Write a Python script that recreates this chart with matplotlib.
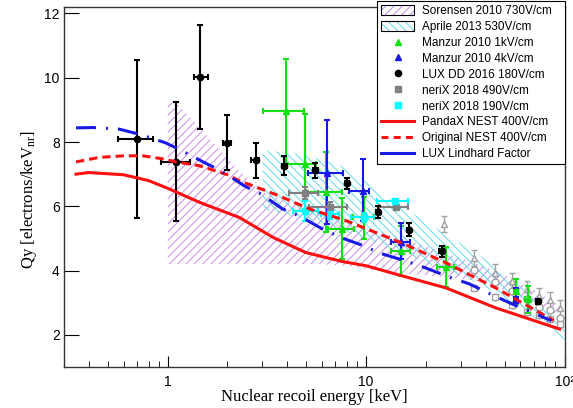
import numpy as np
import matplotlib
matplotlib.use('Agg')
import matplotlib.pyplot as plt
from matplotlib.lines import Line2D
from matplotlib.patches import Patch

plt.rcParams['font.family'] = ['Liberation Sans', 'DejaVu Sans']
plt.rcParams['mathtext.fontset'] = 'custom'
plt.rcParams['mathtext.rm'] = 'Liberation Serif'
plt.rcParams['mathtext.it'] = 'Liberation Serif:italic'
plt.rcParams['hatch.linewidth'] = 0.7
plt.rcParams['lines.scale_dashes'] = False

# ---- bands ----
sor_x = [1.0, 1.08, 1.3, 1.8, 2.3, 2.9, 4.0, 6.0, 8.0, 11.0, 16.0, 25.0, 35.0, 50.0, 70.0, 95.0]
sor_hi = [9.28, 9.28, 8.75, 7.8, 7.1, 6.5, 6.15, 5.8, 5.5, 5.25, 4.95, 4.55, 4.25, 3.85, 3.4, 2.9]
sor_lo = [4.2, 4.2, 4.2, 4.2, 4.2, 4.2, 4.2, 4.2, 4.15, 4.0, 3.9, 3.8, 3.7, 3.4, 3.0, 2.6]

apr_x = [3.0, 5.0, 8.0, 12.0, 19.0, 37.0, 60.0, 80.0, 100.0]
apr_hi = [7.75, 7.6, 7.2, 6.4, 5.6, 4.5, 3.5, 2.9, 2.3]
apr_lo = [5.9, 5.6, 5.2, 4.8, 4.3, 3.6, 2.8, 2.3, 1.7]

# ---- curves ----
pandax_x = [0.345, 0.4, 0.6, 0.8, 1.0, 1.45, 2.3, 3.4, 4.97, 7.6, 10.0, 15.1, 25.3, 45.0, 94.5]
pandax_y = [7.0, 7.05, 6.98, 6.8, 6.56, 6.12, 5.65, 5.03, 4.56, 4.28, 4.15, 3.84, 3.46, 2.84, 2.18]

nest_x = [0.345, 0.45, 0.6, 0.75, 0.98, 1.1, 1.45, 2.0, 2.3, 3.14, 3.65, 5.17, 7.95, 15.1, 25.3, 45.0, 88.0]
nest_y = [7.38, 7.52, 7.57, 7.57, 7.46, 7.38, 7.26, 6.98, 6.79, 6.48, 6.32, 5.92, 5.55, 4.86, 4.24, 3.46, 2.45]

lind_x = [0.345, 0.42, 0.57, 0.72, 0.97, 1.17, 1.53, 1.86, 2.44, 2.96, 3.78, 4.6, 6.0, 7.5, 9.76, 11.6,
          15.8, 20.0, 27.0, 33.0, 42.0, 54.0, 86.0]
lind_y = [8.44, 8.45, 8.4, 8.24, 7.98, 7.74, 7.36, 7.1, 6.63, 6.38, 5.92, 5.7, 5.3, 5.02, 4.77, 4.55,
          4.3, 4.08, 3.77, 3.59, 3.28, 2.97, 2.44]

# ---- data points ----
lux_x = [0.70, 1.106, 1.46, 1.99, 2.77, 3.87, 5.54, 8.0, 11.5, 16.4, 24.0, 73.5]
lux_y = [8.09, 7.38, 10.02, 7.98, 7.43, 7.26, 7.13, 6.72, 5.83, 5.27, 4.61, 3.04]
lux_xlo = [0.56, 0.92, 1.35, 1.91, 2.63, 3.75, 5.4, 7.8, 11.2, 16.0, 23.4, 72.0]
lux_xhi = [0.84, 1.29, 1.59, 2.09, 2.9, 4.0, 5.7, 8.2, 11.8, 16.8, 24.6, 75.0]
lux_ylo = [5.65, 5.55, 8.4, 7.13, 6.87, 6.97, 6.89, 6.53, 5.65, 5.07, 4.43, 2.95]
lux_yhi = [10.54, 9.23, 11.64, 8.83, 7.98, 7.55, 7.36, 6.89, 6.01, 5.47, 4.77, 3.13]

m1_x = [3.95, 4.94, 6.3, 7.6, 9.76, 15.0, 25.3, 57.0, 65.3]
m1_y = [8.95, 7.31, 6.43, 5.3, 5.67, 4.61, 4.1, 3.37, 3.11]
m1_xlo = [3.01, 3.95, 4.97, 6.4, 8.6, 13.4, 22.8, 55.5, 63.5]
m1_xhi = [4.88, 5.6, 7.6, 8.7, 11.0, 16.7, 27.6, 58.5, 67.0]
m1_ylo = [7.36, 5.76, 5.2, 4.35, 4.98, 3.84, 3.49, 2.95, 2.69]
m1_yhi = [10.58, 8.86, 7.68, 6.27, 6.3, 5.38, 4.72, 3.73, 3.52]

m4_x = [6.38, 9.66, 15.0, 57.0]
m4_y = [7.05, 6.48, 4.89, 3.13]
m4_xlo = [5.12, 8.2, 13.3, 55.5]
m4_xhi = [7.66, 10.4, 16.7, 58.5]
m4_ylo = [5.44, 5.55, 4.35, 3.0]
m4_yhi = [8.68, 7.46, 5.49, 3.47]

n490_x = [4.92, 6.57, 14.1]
n490_y = [6.41, 5.99, 5.98]
n490_xlo = [4.1, 5.17, 11.6]
n490_xhi = [5.74, 8.05, 16.2]
n490_ylo = [6.23, 5.84, 5.9]
n490_yhi = [6.59, 6.14, 6.06]

n190_x = [4.92, 6.57, 9.77, 14.0]
n190_y = [5.84, 5.77, 5.67, 6.15]
n190_xlo = [4.27, 5.9, 8.4, 11.4]
n190_xhi = [5.75, 7.3, 11.1, 16.3]
n190_ylo = [5.55, 5.6, 5.52, 6.07]
n190_yhi = [6.15, 5.95, 5.8, 6.23]

# other (unlabelled) open markers
tri_x = [24.8, 35.0, 44.8, 54.6, 64.5, 74.0, 85.0, 94.5]
tri_y = [5.44, 4.39, 3.94, 3.68, 3.42, 3.2, 3.08, 2.85]
circ_x = [35.0, 44.8, 54.6, 64.5, 74.0, 85.0, 94.5]
circ_y = [4.02, 3.63, 3.35, 3.13, 2.88, 2.77, 2.54]
sq_x = [35.0, 44.8, 54.6, 64.5, 74.0, 85.0, 94.5]
sq_y = [3.45, 3.18, 2.93, 2.72, 2.62, 2.49, 2.33]

PURPLE = '#c88ae8'
CYAN = '#62dbe6'
GREEN = '#12e012'
BLUE = '#1a1ae6'
RED = '#ff1010'

fig = plt.figure(figsize=(5.73, 4.08), dpi=100)
ax = fig.add_axes([64 / 573, 1 - 367 / 408, 500.5 / 573, 360 / 408])


def draw_points(x, y, xlo, xhi, ylo, yhi, color, marker, ms, z):
    x = np.array(x); y = np.array(y)
    ax.errorbar(x, y, xerr=[x - np.array(xlo), np.array(xhi) - x],
                yerr=[y - np.array(ylo), np.array(yhi) - y],
                fmt=marker, color=color, ms=ms, lw=1.5, capsize=2.2, capthick=1.5,
                zorder=z)


# bands
ax.fill_between(sor_x, sor_lo, sor_hi, facecolor='none', edgecolor=PURPLE,
                hatch='////', linewidth=0, zorder=1)
ax.fill_between(apr_x, apr_lo, apr_hi, facecolor='none', edgecolor=CYAN,
                hatch='\\\\\\\\', linewidth=0, zorder=1)

# other open markers
ax.errorbar(tri_x, tri_y, yerr=0.25, fmt='^', mfc='white', mec='#a0a0a0', color='#a0a0a0',
            ms=5, lw=1, capsize=2, zorder=2)
ax.errorbar(circ_x, circ_y, yerr=0.12, fmt='o', mfc='white', mec='#a0a0a0', color='#a0a0a0',
            ms=5, lw=1, capsize=0, zorder=2)
ax.errorbar(sq_x, sq_y, yerr=0.12, fmt='s', mfc='white', mec='#a0a0a0', color='#a0a0a0',
            ms=5, lw=1, capsize=0, zorder=2)

draw_points(m1_x, m1_y, m1_xlo, m1_xhi, m1_ylo, m1_yhi, GREEN, '^', 4, 3)
draw_points(m4_x, m4_y, m4_xlo, m4_xhi, m4_ylo, m4_yhi, BLUE, '^', 4, 3)
draw_points(n490_x, n490_y, n490_xlo, n490_xhi, n490_ylo, n490_yhi, '#808080', 's', 4.5, 3)
draw_points(n190_x, n190_y, n190_xlo, n190_xhi, n190_ylo, n190_yhi, '#00ffff', 's', 5, 3)
draw_points(lux_x, lux_y, lux_xlo, lux_xhi, lux_ylo, lux_yhi, 'black', 'o', 4.5, 3)

# curves
ax.plot(pandax_x, pandax_y, color=RED, lw=2.2, zorder=4)
ax.plot(nest_x, nest_y, color=RED, lw=2.2, linestyle=(0, (6, 3.6)), zorder=4)
ax.plot(lind_x, lind_y, color=BLUE, lw=2.2, linestyle=(0, (14.4, 7.2, 1.4, 7.2)), zorder=4)

ax.set_xscale('log')
ax.set_xlim(0.3, 100)
ax.set_ylim(1.0, 12.2)
ax.set_xticks([1, 10, 100])
ax.set_xticklabels(['1', '10', '10²'])
ax.set_yticks([2, 4, 6, 8, 10, 12])
ax.tick_params(axis='both', which='both', direction='in', top=False, right=False,
               labelsize=10)
ax.tick_params(axis='y', which='major', length=10.8, pad=3)
ax.tick_params(axis='y', which='minor', length=0)
ax.tick_params(axis='x', which='major', length=8, pad=6)
ax.tick_params(axis='x', which='minor', length=4.3)
for s in ax.spines.values():
    s.set_linewidth(1.0)
    s.set_color('#333333')

ax.set_xlabel('Nuclear recoil energy [keV]', family='Liberation Serif', fontsize=12)
ax.set_ylabel(r'Qy [electrons/keV$_{\rm nr}$]', family='Liberation Serif', fontsize=12)
ax.xaxis.set_label_coords(0.5, -0.06)
ax.yaxis.set_label_coords(-0.05, 0.464)

handles = [
    (Patch(facecolor='none', edgecolor=PURPLE, hatch='////', lw=0),
     Patch(facecolor='none', edgecolor='black', lw=0.8)),
    (Patch(facecolor='none', edgecolor=CYAN, hatch='\\\\\\\\', lw=0),
     Patch(facecolor='none', edgecolor='black', lw=0.8)),
    Line2D([], [], ls='none', marker='^', color=GREEN, ms=4),
    Line2D([], [], ls='none', marker='^', color=BLUE, ms=4),
    Line2D([], [], ls='none', marker='o', color='black', ms=4.5),
    Line2D([], [], ls='none', marker='s', color='#808080', ms=4.5),
    Line2D([], [], ls='none', marker='s', color='#00ffff', ms=5),
    Line2D([], [], color=RED, lw=2.2),
    Line2D([], [], color=RED, lw=2.2, ls=(0, (5, 3.8))),
    Line2D([], [], color=BLUE, lw=2.2),
]
labels = ['Sorensen 2010 730V/cm', 'Aprile 2013 530V/cm', 'Manzur 2010 1kV/cm',
          'Manzur 2010 4kV/cm', 'LUX DD 2016 180V/cm', 'neriX 2018 490V/cm',
          'neriX 2018 190V/cm', 'PandaX NEST 400V/cm', 'Original NEST 400V/cm',
          'LUX Lindhard Factor']
leg = fig.legend(handles, labels, loc='upper left',
                 bbox_to_anchor=(377 / 573, 0.3, 188 / 573, 1 - 1 / 408 - 0.3),
                 mode='expand', fontsize=8.5, frameon=True, fancybox=False,
                 framealpha=1, edgecolor='black', borderpad=0.35, labelspacing=0.33,
                 handlelength=2.8, handleheight=0.85, handletextpad=0.65,
                 borderaxespad=0)
leg.get_frame().set_linewidth(0.8)

fig.savefig('out.png', dpi=100)
